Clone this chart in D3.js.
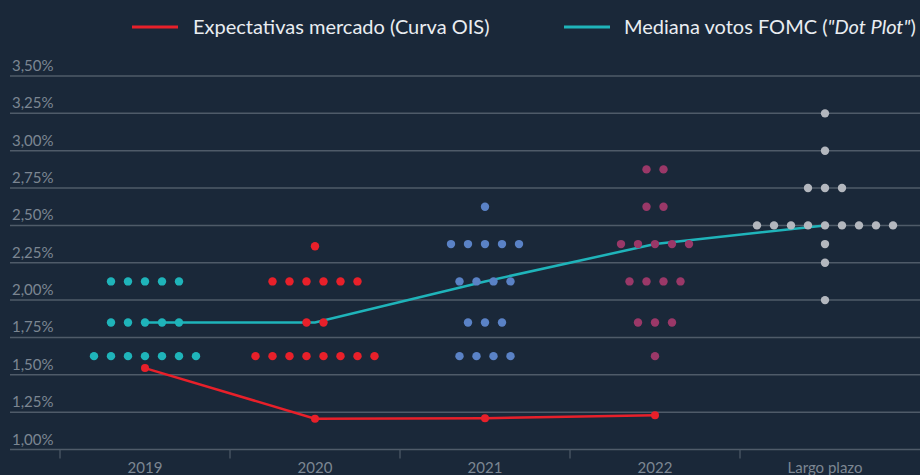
<!DOCTYPE html>
<html lang="es">
<head>
<meta charset="UTF-8">
<title>Dot Plot FOMC vs OIS</title>
<script src="https://d3js.org/d3.v7.min.js"></script>
<style>
  html, body { margin: 0; padding: 0; background: #1a2839; }
  svg { display: block; font-family: "Lato", "Liberation Sans", sans-serif; }
</style>
</head>
<body>
<svg width="920" height="475"></svg>
<script>
// categorias del eje x
const categories = ["2019", "2020", "2021", "2022", "Largo plazo"];

// votos FOMC: nivel del tipo y numero de puntos en ese nivel
const dots2019 = [{rate: 2.125, n: 5}, {rate: 1.85, n: 5}, {rate: 1.625, n: 7}];
const dots2020 = [{rate: 2.36, n: 1}, {rate: 2.125, n: 6}, {rate: 1.85, n: 2}, {rate: 1.625, n: 8}];
const dots2021 = [{rate: 2.625, n: 1}, {rate: 2.375, n: 5}, {rate: 2.125, n: 4}, {rate: 1.85, n: 3}, {rate: 1.625, n: 4}];
const dots2022 = [{rate: 2.875, n: 2}, {rate: 2.625, n: 2}, {rate: 2.375, n: 5}, {rate: 2.125, n: 4}, {rate: 1.85, n: 3}, {rate: 1.625, n: 1}];
const dotsLargo = [{rate: 3.25, n: 1}, {rate: 3.0, n: 1}, {rate: 2.75, n: 3}, {rate: 2.5, n: 9}, {rate: 2.375, n: 1}, {rate: 2.25, n: 1}, {rate: 2.0, n: 1}];

// mediana del dot plot y expectativas de mercado (curva OIS)
const medianFOMC = [1.85, 1.85, 2.125, 2.375, 2.5];
const oisCurve = [1.545, 1.206, 1.21, 1.23];

const yTicks = [1.0, 1.25, 1.5, 1.75, 2.0, 2.25, 2.5, 2.75, 3.0, 3.25, 3.5];

const dotGroups = [
    {cat: "2019", rows: dots2019, color: "#1fb4ba"},
    {cat: "2020", rows: dots2020, color: "#e8202a"},
    {cat: "2021", rows: dots2021, color: "#5a82c6"},
    {cat: "2022", rows: dots2022, color: "#9a3868"},
    {cat: "Largo plazo", rows: dotsLargo, color: "#b3b7be"}
];

const svg = d3.select("svg");
const gridColor = "#4f5b69";
const labelColor = "#7c8692";
const dotSpacing = 17;

const x = d3.scaleBand().domain(categories).range([60, 910]);
const y = d3.scaleLinear().domain([1, 3.5]).range([449.5, 76]);
const fmt = v => d3.format(".2f")(v).replace(".", ",") + "%";

// rejilla horizontal y etiquetas
svg.append("g").selectAll("line")
    .data(yTicks)
    .join("line")
    .attr("x1", 10).attr("x2", 920)
    .attr("y1", d => y(d)).attr("y2", d => y(d))
    .attr("stroke", gridColor)
    .attr("stroke-width", 1.5);

svg.append("g").selectAll("text")
    .data(yTicks)
    .join("text")
    .attr("x", 12)
    .attr("y", d => y(d) - 5)
    .attr("fill", labelColor)
    .attr("font-size", 15)
    .text(fmt);

// eje x
const xAxis = svg.append("g");
xAxis.selectAll("line")
    .data(categories)
    .join("line")
    .attr("x1", d => x(d)).attr("x2", d => x(d))
    .attr("y1", y(1)).attr("y2", y(1) + 9)
    .attr("stroke", gridColor)
    .attr("stroke-width", 1.2);
xAxis.selectAll("text")
    .data(categories)
    .join("text")
    .attr("x", d => x(d) + x.bandwidth() / 2)
    .attr("y", 473)
    .attr("text-anchor", "middle")
    .attr("fill", labelColor)
    .attr("font-size", 15)
    .text(d => d);

const cx = c => x(c) + x.bandwidth() / 2;

// linea de la mediana
svg.append("path")
    .datum(medianFOMC)
    .attr("d", d3.line().x((d, i) => cx(categories[i])).y(d => y(d)))
    .attr("fill", "none")
    .attr("stroke", "#1fb4ba")
    .attr("stroke-width", 2.5);

// puntos de cada votante
dotGroups.forEach(g => {
    const pts = [];
    g.rows.forEach(r => {
        for (let i = 0; i < r.n; i++) {
            pts.push({rate: r.rate, off: i - (r.n - 1) / 2});
        }
    });
    svg.append("g").selectAll("circle")
        .data(pts)
        .join("circle")
        .attr("cx", d => cx(g.cat) + d.off * dotSpacing)
        .attr("cy", d => y(d.rate))
        .attr("r", 4.2)
        .attr("fill", g.color);
});

// curva OIS
svg.append("path")
    .datum(oisCurve)
    .attr("d", d3.line().x((d, i) => cx(categories[i])).y(d => y(d)))
    .attr("fill", "none")
    .attr("stroke", "#e8202a")
    .attr("stroke-width", 2.5);
svg.append("g").selectAll("circle")
    .data(oisCurve)
    .join("circle")
    .attr("cx", (d, i) => cx(categories[i]))
    .attr("cy", d => y(d))
    .attr("r", 4)
    .attr("fill", "#e8202a");

// leyenda
const legend = [
    {x: 132, color: "#e8202a", label: "Expectativas mercado (Curva OIS)"},
    {x: 564, color: "#1fb4ba", label: null}
];
const lg = svg.append("g");
legend.forEach(l => {
    lg.append("line")
        .attr("x1", l.x).attr("x2", l.x + 46)
        .attr("y1", 27).attr("y2", 27)
        .attr("stroke", l.color)
        .attr("stroke-width", 3);
});
lg.append("text")
    .attr("x", 193).attr("y", 34)
    .attr("fill", "#e9edf1")
    .attr("font-size", 20)
    .text("Expectativas mercado (Curva OIS)");
const t2 = lg.append("text")
    .attr("x", 624).attr("y", 34)
    .attr("fill", "#e9edf1")
    .attr("font-size", 20);
t2.append("tspan").text("Mediana votos FOMC (");
t2.append("tspan").attr("font-style", "italic").text("\"Dot Plot\"");
t2.append("tspan").text(")");
</script>
</body>
</html>
